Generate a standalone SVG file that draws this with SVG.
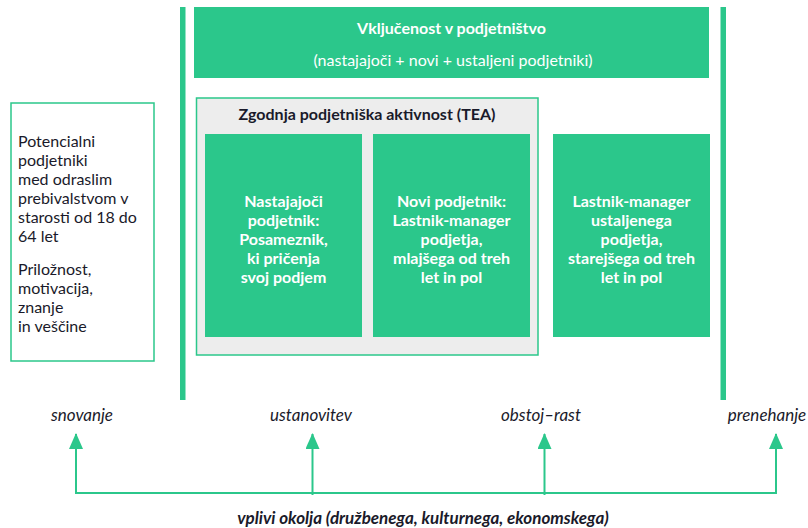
<svg xmlns="http://www.w3.org/2000/svg" width="808" height="528" viewBox="0 0 808 528">
<defs>
<style>
.g{fill:#2bc78b}
.t{font-family:Lato,"Liberation Sans",sans-serif;font-size:16px}
.w{fill:#ffffff;font-weight:bold;text-anchor:middle}
.d{fill:#1a1a2a}
.i{font-style:italic;text-anchor:middle;fill:#1a1a2a;font-size:17px}
.c{stroke:#2bc78b;stroke-width:2;fill:none}
</style>
<marker id="ah" viewBox="0 0 16 14" refX="15" refY="7" markerWidth="16" markerHeight="14" markerUnits="userSpaceOnUse" orient="auto">
<path d="M0,0 L16,7 L0,14 Z" fill="#2bc78b"/>
</marker>
</defs>
<rect width="808" height="528" fill="#ffffff"/>
<g id="bars">
<rect class="g" x="180" y="7" width="5.5" height="393"/>
<rect class="g" x="720.5" y="7" width="5.5" height="393"/>
</g>
<g id="potencialni">
<rect x="11" y="103" width="143" height="258" fill="#ffffff" stroke="#2bc78b" stroke-width="1.5"/>
<text class="t d" x="18" y="147">Potencialni</text>
<text class="t d" x="18" y="166">podjetniki</text>
<text class="t d" x="18" y="185">med odraslim</text>
<text class="t d" x="18" y="204">prebivalstvom v</text>
<text class="t d" x="18" y="223">starosti od 18 do</text>
<text class="t d" x="18" y="242">64 let</text>
<text class="t d" x="18" y="275">Priložnost,</text>
<text class="t d" x="18" y="294">motivacija,</text>
<text class="t d" x="18" y="313">znanje</text>
<text class="t d" x="18" y="332">in veščine</text>
</g>
<g id="vkljucenost">
<rect class="g" x="194" y="7" width="515" height="71"/>
<text class="t w" x="451.5" y="34" font-size="16.5">Vključenost v podjetništvo</text>
<text class="t" x="453" y="66" fill="#ffffff" text-anchor="middle">(nastajajoči + novi + ustaljeni podjetniki)</text>
</g>
<g id="tea">
<rect x="196.5" y="98" width="341.5" height="257" fill="#ededed" stroke="#2bc78b" stroke-width="1.5"/>
<text class="t d" x="367" y="120" font-weight="bold" text-anchor="middle">Zgodnja podjetniška aktivnost (TEA)</text>
</g>
<g id="nastajajoci">
<rect class="g" x="205" y="134" width="157" height="203"/>
<text class="t w" x="283.5" y="207">Nastajajoči</text>
<text class="t w" x="283.5" y="226">podjetnik:</text>
<text class="t w" x="283.5" y="245">Posameznik,</text>
<text class="t w" x="283.5" y="264">ki pričenja</text>
<text class="t w" x="283.5" y="283">svoj podjem</text>
</g>
<g id="novi">
<rect class="g" x="373" y="134" width="157" height="203"/>
<text class="t w" x="451.5" y="207">Novi podjetnik:</text>
<text class="t w" x="451.5" y="226">Lastnik-manager</text>
<text class="t w" x="451.5" y="245">podjetja,</text>
<text class="t w" x="451.5" y="264">mlajšega od treh</text>
<text class="t w" x="451.5" y="283">let in pol</text>
</g>
<g id="ustaljeni">
<rect class="g" x="553" y="134" width="157" height="203"/>
<text class="t w" x="631.5" y="207">Lastnik-manager</text>
<text class="t w" x="631.5" y="226">ustaljenega</text>
<text class="t w" x="631.5" y="245">podjetja,</text>
<text class="t w" x="631.5" y="264">starejšega od treh</text>
<text class="t w" x="631.5" y="283">let in pol</text>
</g>
<g id="faze">
<text class="t i" x="82" y="421">snovanje</text>
<text class="t i" x="311" y="421">ustanovitev</text>
<text class="t i" x="541" y="421">obstoj–rast</text>
<text class="t i" x="767" y="421">prenehanje</text>
</g>
<g id="connectors">
<polyline class="c" points="76,447 76,493 776,493 776,447"/>
<path class="c" d="M76,493 V434" marker-end="url(#ah)"/>
<path class="c" d="M312.5,495 V434" marker-end="url(#ah)"/>
<path class="c" d="M544.5,495 V434" marker-end="url(#ah)"/>
<path class="c" d="M776,493 V434" marker-end="url(#ah)"/>
</g>
<g id="vplivi">
<text class="t i" x="423" y="524" font-weight="bold" font-size="17.5">vplivi okolja (družbenega, kulturnega, ekonomskega)</text>
</g>
</svg>
